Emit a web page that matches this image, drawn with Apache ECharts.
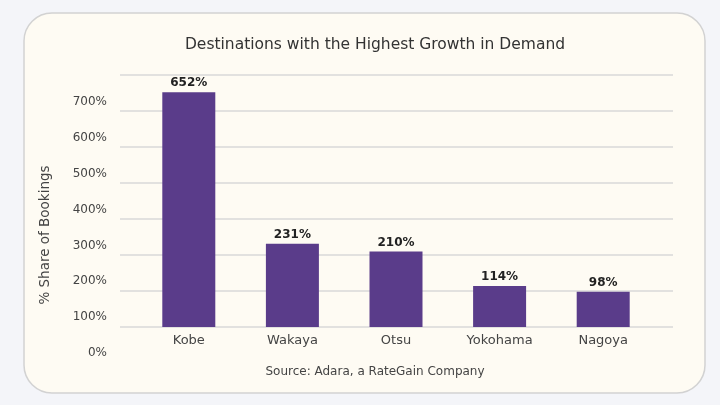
<!DOCTYPE html>
<html>
<head>
<meta charset="utf-8">
<script src="https://cdn.jsdelivr.net/npm/echarts@6/dist/echarts.min.js"></script>
<style>
  html, body { margin: 0; padding: 0; background: #f4f5f9; }
  #chart { width: 720px; height: 405px; }
</style>
</head>
<body>
<div id="chart"></div>
<script>
// 需求增长最高的目的地
const cities = ['Kobe', 'Wakaya', 'Otsu', 'Yokohama', 'Nagoya'];
const growth = [652, 231, 210, 114, 98];
const yTicks = [0, 100, 200, 300, 400, 500, 600, 700];

const FONT = 'DejaVu Sans';
const chart = echarts.init(document.getElementById('chart'));

const option = {
    backgroundColor: '#f4f5f9',
    textStyle: { fontFamily: FONT },
    graphic: [
        {
            type: 'rect',
            z: -10,
            shape: { x: 24, y: 13, width: 681, height: 380, r: 28 },
            style: { fill: '#fefbf3', stroke: '#d2d2d2', lineWidth: 1.5 }
        },
        {
            type: 'text',
            x: 375, y: 45,
            style: {
                text: 'Destinations with the Highest Growth in Demand',
                align: 'center', verticalAlign: 'middle',
                font: '15.5px "DejaVu Sans"', fill: '#333'
            }
        },
        {
            type: 'text',
            x: 375, y: 372,
            style: {
                text: 'Source: Adara, a RateGain Company',
                align: 'center', verticalAlign: 'middle',
                font: '12px "DejaVu Sans"', fill: '#444'
            }
        },
        {
            type: 'text',
            x: 45, y: 235,
            rotation: Math.PI / 2,
            style: {
                text: '% Share of Bookings',
                align: 'center', verticalAlign: 'middle',
                font: '13.5px "DejaVu Sans"', fill: '#444'
            }
        }
    ],
    grid: [
        { left: 120, right: 47, top: 75, bottom: 78 },   // 网格线
        { left: 137, right: 65, top: 75, bottom: 78 },   // 柱子
        { left: 120, right: 47, top: 102, bottom: 52 }   // 刻度文字（原图下移）
    ],
    xAxis: [
        { gridIndex: 0, type: 'category', data: cities, show: false },
        {
            gridIndex: 1,
            type: 'category',
            data: cities,
            axisLine: { show: false },
            axisTick: { show: false },
            axisLabel: { margin: 7, fontSize: 13, color: '#444', fontFamily: FONT }
        },
        { gridIndex: 2, type: 'category', data: cities, show: false }
    ],
    yAxis: [
        {
            gridIndex: 0,
            type: 'value',
            min: yTicks[0],
            max: yTicks[yTicks.length - 1],
            interval: 100,
            axisLine: { show: false },
            axisTick: { show: false },
            axisLabel: { show: false },
            splitLine: { lineStyle: { color: '#d8d8d8', width: 1.5 } }
        },
        {
            gridIndex: 1,
            type: 'value',
            min: yTicks[0],
            max: yTicks[yTicks.length - 1],
            interval: 100,
            show: false
        },
        {
            gridIndex: 2,
            type: 'value',
            min: yTicks[0],
            max: yTicks[yTicks.length - 1],
            interval: 100,
            axisLine: { show: false },
            axisTick: { show: false },
            splitLine: { show: false },
            axisLabel: {
                margin: 13,
                fontSize: 12,
                color: '#444',
                fontFamily: FONT,
                formatter: '{value}%'
            }
        }
    ],
    series: [
        {
            type: 'bar',
            xAxisIndex: 1,
            yAxisIndex: 1,
            data: growth,
            barWidth: 53,
            itemStyle: { color: '#5a3c8a' },
            label: {
                show: true,
                position: 'top',
                distance: 3,
                formatter: '{c}%',
                fontFamily: FONT,
                fontSize: 12,
                fontWeight: 'bold',
                color: '#222'
            }
        }
    ]
};

chart.setOption(option);
</script>
</body>
</html>
